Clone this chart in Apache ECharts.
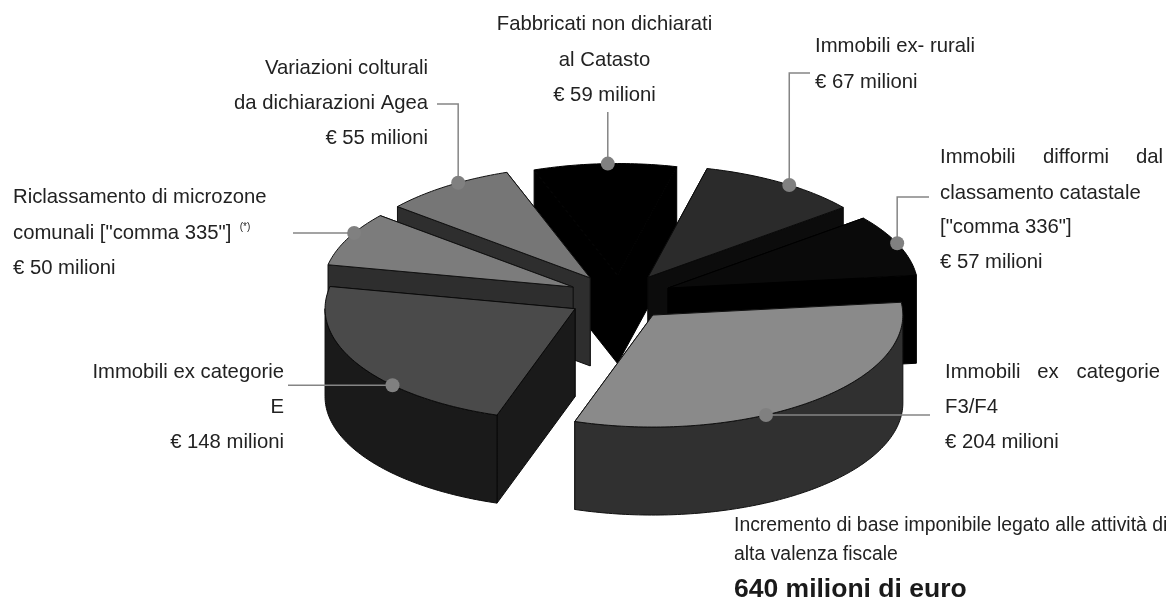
<!DOCTYPE html>
<html>
<head>
<meta charset="utf-8">
<script src="https://cdn.jsdelivr.net/npm/echarts@6/dist/echarts.min.js"></script>
<style>html,body{margin:0;padding:0;background:#fff}#c{width:1171px;height:597px}</style>
</head>
<body>
<div id="c"></div>
<script>
// Data, clockwise from the "Fabbricati" slice
var categories = ['Fabbricati non dichiarati al Catasto', 'Immobili ex- rurali', 'Immobili difformi dal classamento catastale', 'Immobili ex categorie F3/F4', 'Immobili ex categorie E', 'Riclassamento di microzone comunali', 'Variazioni colturali da dichiarazioni Agea'];
var values = [59, 67, 57, 204, 148, 50, 55];

// Styles
var topColors  = ['#000000', '#2b2b2b', '#0a0a0a', '#8a8a8a', '#4a4a4a', '#7c7c7c', '#767676'];
var sideColors = ['#000000', '#0c0c0c', '#000000', '#303030', '#1a1a1a', '#2e2e2e', '#2e2e2e'];
var edgeColors = ['#000000', '#0a0a0a', '#000000', '#111111', '#0a0a0a', '#111111', '#111111'];
var explodes   = [48, 52, 52, 52, 52, 52, 52];
// Where along each slice's arc the callout dot sits (0..1 of its sweep)
var dotFractions = [0.52, 0.55, 0.47, 0.607, 0.345, 0.62, 0.6];
// Where each leader line ends: x (null = straight up), y (null = straight sideways)
var leaderEnds = [[null, 112], [810, 73], [929, 197], [930, null], [288, null], [293, null], [437, 104]];

// Pie projection
var CX = 620, CY = 297, RX = 250, RY = 112, DEPTH = 88, START = 250.5;

var textColor = '#222222';
var textFont = '"Liberation Sans", Arial, sans-serif';
// [text, x, y, align]
var labelTexts = [
  ['Fabbricati non dichiarati', 604.5, 24, 'center'],
  ['al Catasto', 604.5, 60, 'center'],
  ['€ 59 milioni', 604.5, 95, 'center'],
  ['Immobili ex- rurali', 815, 46, 'left'],
  ['€ 67 milioni', 815, 82, 'left'],
  ['Immobili', 940, 157, 'left'],
  ['difformi', 1076, 157, 'center'],
  ['dal', 1163, 157, 'right'],
  ['classamento catastale', 940, 193, 'left'],
  ['["comma 336"]', 940, 227, 'left'],
  ['€ 57 milioni', 940, 262, 'left'],
  ['Immobili', 945, 372, 'left'],
  ['ex', 1048, 372, 'center'],
  ['categorie', 1160, 372, 'right'],
  ['F3/F4', 945, 407, 'left'],
  ['€ 204 milioni', 945, 442, 'left'],
  ['Immobili ex categorie', 284, 372, 'right'],
  ['E', 284, 407, 'right'],
  ['€ 148 milioni', 284, 442, 'right'],
  ['Riclassamento di microzone', 13, 197, 'left'],
  ['comunali ["comma 335"]', 13, 233, 'left'],
  ['€ 50 milioni', 13, 268, 'left'],
  ['Variazioni colturali', 428, 68, 'right'],
  ['da dichiarazioni Agea', 428, 103, 'right'],
  ['€ 55 milioni', 428, 138, 'right']
];
var noteTexts = [
  ['Incremento di base imponibile legato alle attività di', 734, 526],
  ['alta valenza fiscale', 734, 555]
];
var totalText = '640 milioni di euro';

var total = values.reduce(function (a, b) { return a + b; }, 0);
var starts = [];
values.reduce(function (acc, v, i) { starts[i] = acc; return acc + v / total * 360; }, START);

function rad(d) { return d * Math.PI / 180; }

function renderSlice(params, api) {
  var i = params.dataIndex;
  var v = api.value(0);
  var sweep = v / total * 360;
  var a0 = starts[i], a1 = a0 + sweep, mid = a0 + sweep / 2;
  var tx = CX + explodes[i] * Math.cos(rad(mid));
  var ty = CY + explodes[i] * (RY / RX) * Math.sin(rad(mid));
  function pt(t, dz) {
    return [tx + RX * Math.cos(rad(t)), ty + RY * Math.sin(rad(t)) + (dz || 0)];
  }
  function arc(from, to, dz) {
    var out = [], n = Math.max(2, Math.ceil(Math.abs(to - from)));
    for (var k = 0; k <= n; k++) out.push(pt(from + (to - from) * k / n, dz));
    return out;
  }
  var order = ty * 10;
  function face(points, fill, bump) {
    return { type: 'polygon', z2: order + bump, shape: { points: points }, silent: true,
      style: { fill: fill, stroke: edgeColors[i], lineWidth: 1, lineJoin: 'round' } };
  }
  var kids = [];
  var side = sideColors[i];
  var startQuad = [[tx, ty], pt(a0), pt(a0, DEPTH), [tx, ty + DEPTH]];
  var endQuad = [[tx, ty], pt(a1), pt(a1, DEPTH), [tx, ty + DEPTH]];
  // Radial cut faces, the one turned away from the viewer first
  var startFront = -Math.cos(rad(a0)) > 0;
  var endFront = Math.cos(rad(a1)) > 0;
  if (!startFront) kids.push(face(startQuad, side, 0));
  if (!endFront) kids.push(face(endQuad, side, 0));
  if (startFront) kids.push(face(startQuad, side, 1));
  if (endFront) kids.push(face(endQuad, side, 1));
  // Outer wall: only the part of the rim facing the viewer (0..180 degrees on the ellipse)
  var lo = a0 % 360, hi = lo + sweep, wallFrom = null, wallTo = null;
  [0, 360].forEach(function (base) {
    var f = Math.max(lo, base), t = Math.min(hi, base + 180);
    if (t > f && wallFrom === null) { wallFrom = f; wallTo = t; }
  });
  if (wallFrom !== null) {
    kids.push(face(arc(wallFrom, wallTo, 0).concat(arc(wallTo, wallFrom, DEPTH)), side, 2));
  }
  kids.push(face([[tx, ty]].concat(arc(a0, a1, 0)), topColors[i], 3));

  // Callout
  var dot = pt(a0 + sweep * dotFractions[i]);
  var end = leaderEnds[i];
  var ex = end[0] === null ? dot[0] : end[0];
  var ey = end[1] === null ? dot[1] : end[1];
  kids.push({ type: 'polyline', z2: 100000, silent: true,
    shape: { points: [dot, [dot[0], ey], [ex, ey]] },
    style: { fill: null, stroke: '#858585', lineWidth: 1.5 } });
  kids.push({ type: 'circle', z2: 100001, silent: true,
    shape: { cx: dot[0], cy: dot[1], r: 7 },
    style: { fill: '#808080' } });
  return { type: 'group', children: kids };
}

var graphics = labelTexts.map(function (t) {
  return { type: 'text', x: t[1], y: t[2], silent: true,
    style: { text: t[0], fill: textColor, font: '20.3px ' + textFont, textAlign: t[3], textVerticalAlign: 'middle' } };
});
graphics.push({ type: 'text', x: 245, y: 227, silent: true,
  style: { text: '(*)', fill: textColor, font: '10px ' + textFont, textAlign: 'center', textVerticalAlign: 'middle' } });
noteTexts.forEach(function (t) {
  graphics.push({ type: 'text', x: t[1], y: t[2], silent: true,
    style: { text: t[0], fill: textColor, font: '19.4px ' + textFont, textAlign: 'left', textVerticalAlign: 'middle' } });
});
graphics.push({ type: 'text', x: 734, y: 590, silent: true,
  style: { text: totalText, fill: '#1a1a1a', font: 'bold 26.5px ' + textFont, textAlign: 'left', textVerticalAlign: 'middle' } });

var chart = echarts.init(document.getElementById('c'), null, { renderer: 'canvas' });
chart.setOption({
  animation: false,
  backgroundColor: '#ffffff',
  tooltip: { show: false },
  graphic: graphics,
  series: [{
    type: 'custom',
    name: 'Base imponibile',
    coordinateSystem: 'none',
    renderItem: renderSlice,
    data: values.map(function (v, i) { return { name: categories[i], value: [v] }; }),
    encode: { value: 0 },
    silent: true
  }]
});
</script>
</body>
</html>
